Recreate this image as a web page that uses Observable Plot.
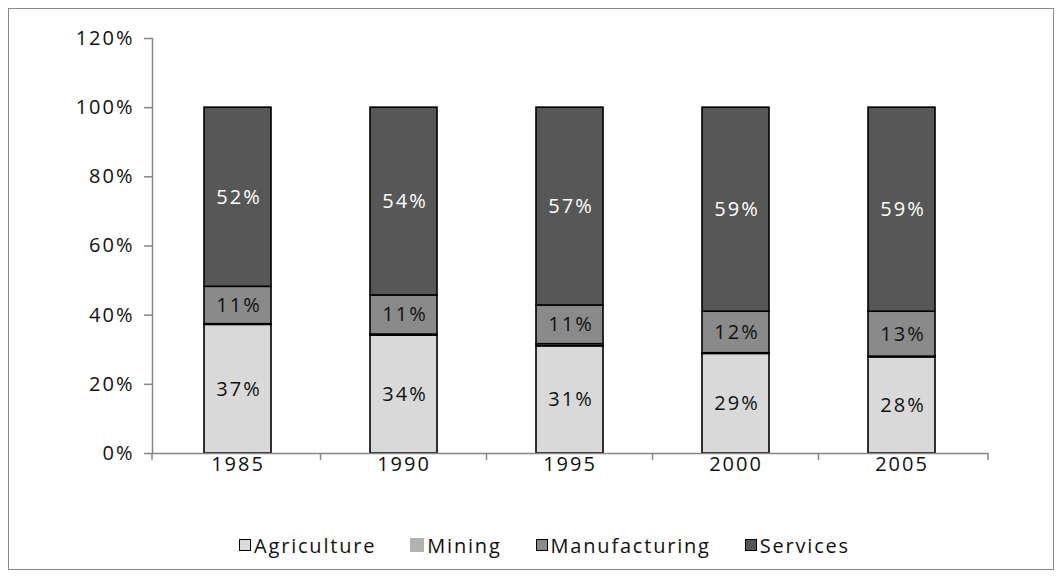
<!DOCTYPE html>
<html>
<head>
<meta charset="utf-8">
<script src="https://cdn.jsdelivr.net/npm/d3@7"></script>
<script src="https://cdn.jsdelivr.net/npm/@observablehq/plot@0.6"></script>
<style>
  html, body { margin: 0; padding: 0; background: #fff; }
  body { width: 1064px; height: 579px; position: relative; overflow: hidden; font-family: "Open Sans", sans-serif; }
  #frame { position: absolute; left: 8px; top: 8px; width: 1046px; height: 562px; border: 1px solid #8a8a8a; box-sizing: border-box; }
  #chart { position: absolute; left: 0; top: 0; }
  #legend { position: absolute; top: 531px; left: 0; width: 1064px; height: 28px; display: flex; justify-content: center; align-items: center; padding-left: 25px; box-sizing: border-box; font-size: 20px; letter-spacing: 1.8px; color: #111; }
  .item { display: flex; align-items: center; margin: 0 17px; }
  .sw { width: 12px; height: 12px; margin-right: 3px; box-sizing: border-box; }
</style>
</head>
<body>
<div id="frame"></div>
<div id="chart"></div>
<div id="legend"></div>
<script>
const years = ["1985", "1990", "1995", "2000", "2005"];
const sectors = ["Agriculture", "Mining", "Manufacturing", "Services"];
const agriculture = [37.2, 34.1, 31.0, 28.8, 27.8];
const mining = [0.2, 0.3, 0.6, 0.2, 0.2];
const manufacturing = [10.8, 11.3, 11.2, 12.0, 13.0];
const services = [51.8, 54.3, 57.2, 59.0, 59.0];
const colors = ["#d9d9d9", "#b2b2b2", "#8a8a8a", "#575757"];
const yTicks = [0, 20, 40, 60, 80, 100, 120];

const seriesValues = [agriculture, mining, manufacturing, services];
const rows = [];
years.forEach((yr, i) => {
  let cum = 0;
  sectors.forEach((s, j) => {
    const v = seriesValues[j][i];
    rows.push({year: yr, sector: s, value: v, mid: cum + v / 2});
    cum += v;
  });
});

const W = 1064, H = 510;
const marginLeft = 152, marginRight = 76, marginTop = 38, marginBottom = 57;
const padInner = 0.596, padOuter = 0.316;

const chart = Plot.plot({
  width: W,
  height: H,
  marginLeft, marginRight, marginTop, marginBottom,
  style: {fontFamily: "Open Sans, sans-serif", fontSize: "20px", color: "#111", background: "transparent", letterSpacing: "2px"},
  x: {domain: years, paddingInner: padInner, paddingOuter: padOuter, label: null, tickSize: 0, tickPadding: 3},
  y: {domain: [0, 120], ticks: yTicks, tickFormat: d => d + "%", label: null, tickSize: 8, tickPadding: 10},
  color: {domain: sectors, range: colors},
  marks: [
    Plot.barY(rows, {x: "year", y: "value", fill: "sector", stroke: "#000", strokeWidth: 1.6, order: sectors}),
    Plot.text(rows.filter(d => d.sector !== "Mining" && d.sector !== "Services"), {x: "year", y: "mid", text: d => Math.round(d.value) + "%", fill: "#111", fontSize: 20, dx: 1}),
    Plot.text(rows.filter(d => d.sector === "Services"), {x: "year", y: "mid", text: d => Math.round(d.value) + "%", fill: "#fff", fontSize: 20, dx: 1}),
    Plot.ruleY([0], {stroke: "#878787", strokeWidth: 1.5}),
    Plot.frame({anchor: "left", stroke: "#878787", strokeWidth: 1.5})
  ]
});

// Category-boundary ticks on the x axis, derived from the band scale
const xs = chart.scale("x");
const ys = chart.scale("y");
const svg = d3.select(chart);
const y0 = ys.apply(0);
const half = xs.step / 2;
const bounds = [xs.apply(years[0]) + xs.bandwidth / 2 - half].concat(years.map(yv => xs.apply(yv) + xs.bandwidth / 2 + half));
bounds[0] = marginLeft;
bounds[bounds.length - 1] = W - marginRight;
svg.append("g").selectAll("line").data(bounds).join("line")
  .attr("x1", d => d).attr("x2", d => d)
  .attr("y1", y0).attr("y2", y0 + 7)
  .attr("stroke", "#878787").attr("stroke-width", 1.5);
svg.selectAll("[aria-label='y-axis tick']").attr("stroke", "#878787").attr("stroke-width", 1.5);

document.getElementById("chart").append(chart);

// Legend
const legend = d3.select("#legend");
sectors.forEach((s, j) => {
  const it = legend.append("div").attr("class", "item");
  it.append("div").attr("class", "sw")
    .style("background", colors[j])
    .style("border", s === "Mining" ? "none" : "1.5px solid #000")
    .style("width", s === "Mining" ? "14px" : "12px")
    .style("height", s === "Mining" ? "14px" : "12px");
  it.append("span").text(s);
});
</script>
</body>
</html>
